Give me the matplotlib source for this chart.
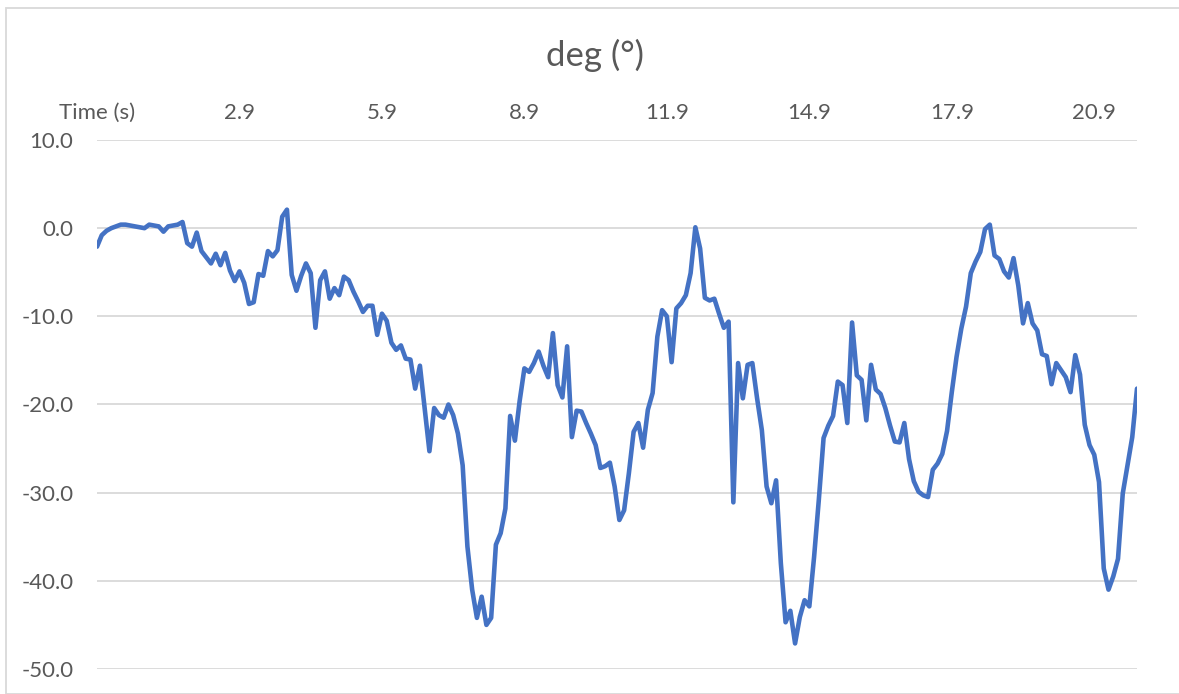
import matplotlib
matplotlib.use("Agg")
import matplotlib.pyplot as plt
from matplotlib.patches import Rectangle

# deg (°) values, one per category (first category is the "Time (s)" header row)
deg = [
    -2.1, -0.8, -0.3, 0.0, 0.2, 0.4, 0.4, 0.3, 0.2, 0.1,
    0.0, 0.4, 0.3, 0.2, -0.4, 0.2, 0.3, 0.4, 0.7, -1.7,
    -2.1, -0.5, -2.6, -3.3, -4.0, -2.9, -4.2, -2.8, -4.8, -6.0,
    -4.9, -6.2, -8.6, -8.4, -5.2, -5.4, -2.6, -3.2, -2.5, 1.3,
    2.1, -5.3, -7.1, -5.4, -4.0, -5.1, -11.3, -5.9, -4.9, -8.0,
    -6.8, -7.6, -5.5, -5.9, -7.2, -8.3, -9.5, -8.8, -8.8, -12.1,
    -9.7, -10.5, -13.0, -13.8, -13.3, -14.8, -14.9, -18.2, -15.6, -20.4,
    -25.3, -20.4, -21.2, -21.5, -20.0, -21.2, -23.3, -26.9, -36.1, -41.0,
    -44.2, -41.8, -45.0, -44.2, -35.9, -34.6, -31.8, -21.3, -24.1, -19.6,
    -15.9, -16.3, -15.3, -14.0, -15.6, -16.9, -11.9, -17.8, -19.2, -13.4,
    -23.7, -20.7, -20.8, -22.1, -23.3, -24.6, -27.2, -27.0, -26.6, -29.3,
    -33.1, -32.0, -27.8, -23.1, -22.1, -24.9, -20.6, -18.7, -12.3, -9.3,
    -10.0, -15.2, -9.1, -8.5, -7.6, -5.1, 0.1, -2.3, -7.9, -8.2,
    -8.0, -9.7, -11.3, -10.6, -31.1, -15.3, -19.3, -15.5, -15.3, -19.3,
    -22.9, -29.3, -31.2, -28.6, -38.0, -44.7, -43.4, -47.1, -44.1, -42.2,
    -42.9, -37.3, -30.8, -23.8, -22.4, -21.3, -17.4, -17.8, -22.1, -10.7,
    -16.7, -17.2, -21.8, -15.5, -18.3, -18.8, -20.4, -22.4, -24.2, -24.3,
    -22.1, -26.2, -28.7, -29.9, -30.3, -30.5, -27.4, -26.7, -25.6, -23.0,
    -18.6, -14.6, -11.4, -8.9, -5.1, -3.8, -2.7, -0.1, 0.4, -3.1,
    -3.5, -4.9, -5.6, -3.4, -6.5, -10.8, -8.5, -10.8, -11.6, -14.3,
    -14.5, -17.7, -15.3, -16.1, -16.9, -18.6, -14.4, -16.6, -22.3, -24.6,
    -25.7, -28.8, -38.6, -41.0, -39.5, -37.5, -30.1, -26.9, -23.7, -18.2,
]

# category labels shown every 30 categories
tick_labels = ["Time (s)", "2.9", "5.9", "8.9", "11.9", "14.9", "17.9", "20.9"]
label_step = 30

y_ticks = [10, 0, -10, -20, -30, -40, -50]

text_color = "#595959"
grid_color = "#d9d9d9"
line_color = "#4472C4"

plt.rcParams["font.family"] = ["Lato", "DejaVu Sans"]

W, H = 1179, 694
fig = plt.figure(figsize=(W / 100, H / 100), dpi=100)

# light chart border (only top/left visible in the crop)
fig.patches.append(Rectangle((6 / W, 0), 1.2, 1 - 8 / H, transform=fig.transFigure,
                             fill=False, edgecolor=grid_color, linewidth=1.3))

ax = fig.add_axes([97 / W, 1 - 669 / H, (1137 - 97) / W, (669 - 140) / H])

x = list(range(len(deg)))
ax.plot(x, deg, color=line_color, linewidth=3.3, solid_joinstyle="round",
        solid_capstyle="round", zorder=3)

ax.set_xlim(0, len(deg) - 1)
ax.set_ylim(-50, 10)

ax.set_yticks(y_ticks)
ax.set_yticklabels([f"{v:.1f}" for v in y_ticks])
ax.set_xticks(list(range(0, len(deg), label_step))[:len(tick_labels)])
ax.set_xticklabels(tick_labels)

ax.xaxis.tick_top()
ax.tick_params(axis="x", length=0, pad=12.5, labelsize=16, colors=text_color)
ax.tick_params(axis="y", length=0, pad=17, labelsize=16, colors=text_color)

ax.grid(axis="y", color=grid_color, linewidth=1.3)
ax.set_axisbelow(True)
for s in ax.spines.values():
    s.set_visible(False)

fig.text(595.5 / W, 1 - 55 / H, "deg (°)", ha="center", va="center",
         fontsize=25, color=text_color)

fig.savefig("out.png", dpi=100)
